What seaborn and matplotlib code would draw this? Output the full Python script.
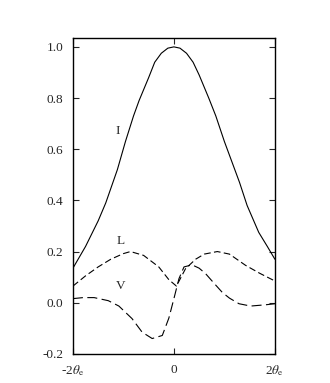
import matplotlib
matplotlib.use('Agg')
import matplotlib.pyplot as plt
import pandas as pd
import seaborn as sns

# Stokes profiles across the line, x in units of theta_e
x_I = [-2, -1.75, -1.5, -1.35, -1.12, -0.96, -0.8, -0.69, -0.5, -0.38, -0.25, -0.12, 0,
       0.12, 0.25, 0.38, 0.5, 0.69, 0.83, 1.0, 1.15, 1.3, 1.45, 1.68, 1.85, 2]
I_vals = [0.135, 0.22, 0.32, 0.39, 0.52, 0.63, 0.73, 0.79, 0.88, 0.94, 0.975, 0.995, 1.0,
          0.995, 0.975, 0.94, 0.89, 0.80, 0.73, 0.63, 0.55, 0.47, 0.38, 0.275, 0.22, 0.17]

x_L = [-2, -1.75, -1.5, -1.25, -1.0, -0.86, -0.6, -0.3, -0.1, 0.05, 0.23, 0.43,
       0.6, 0.86, 1.1, 1.42, 1.7, 2]
L_vals = [0.065, 0.105, 0.14, 0.17, 0.192, 0.20, 0.185, 0.14, 0.09, 0.065, 0.133, 0.17,
          0.19, 0.20, 0.19, 0.146, 0.115, 0.085]

x_V = [-2, -1.8, -1.58, -1.3, -1.09, -0.83, -0.63, -0.43, -0.23, -0.1, 0, 0.1, 0.2,
       0.36, 0.5, 0.63, 0.8, 0.96, 1.1, 1.29, 1.52, 1.82, 2]
V_vals = [0.016, 0.02, 0.02, 0.008, -0.013, -0.062, -0.115, -0.14, -0.128, -0.06, 0.016,
          0.094, 0.14, 0.148, 0.135, 0.113, 0.075, 0.04, 0.018, -0.004, -0.013, -0.008, -0.004]

x_ticks = [-2, 0, 2]
x_ticklabels = [r'-2$\theta_{\rm e}$', '0', r'2$\theta_{\rm e}$']
y_ticks = [-0.2, 0.0, 0.2, 0.4, 0.6, 0.8, 1.0]

sns.set_style('ticks')
plt.rcParams['font.family'] = ['Liberation Serif', 'DejaVu Serif']
plt.rcParams['mathtext.fontset'] = 'stix'

fig = plt.figure(figsize=(3.3, 3.83), dpi=100)
ax = fig.add_axes([0.221, 0.076, 0.612, 0.825])

df_I = pd.DataFrame({'x': x_I, 'y': I_vals})
df_L = pd.DataFrame({'x': x_L, 'y': L_vals})
df_V = pd.DataFrame({'x': x_V, 'y': V_vals})

sns.lineplot(data=df_I, x='x', y='y', ax=ax, color='black', lw=0.8, sort=False)
sns.lineplot(data=df_L, x='x', y='y', ax=ax, color='black', lw=0.8, sort=False)
ax.lines[-1].set_dashes([6, 3])
sns.lineplot(data=df_V, x='x', y='y', ax=ax, color='black', lw=0.8, sort=False)
ax.lines[-1].set_dashes([9, 4])

ax.text(-1.12, 0.67, 'I', fontsize=9.5, ha='center', va='center')
ax.text(-1.06, 0.243, 'L', fontsize=9.5, ha='center', va='center')
ax.text(-1.06, 0.065, 'V', fontsize=9.5, ha='center', va='center')

ax.set_xlim(-2, 2)
ax.set_ylim(-0.2, 1.035)
ax.set_xticks(x_ticks)
ax.set_xticklabels(x_ticklabels)
ax.set_yticks(y_ticks)
ax.set_yticklabels(['%.1f' % v for v in y_ticks])
ax.set_xlabel('')
ax.set_ylabel('')
ax.tick_params(direction='in', length=4, width=0.8, labelsize=9.5,
               top=True, right=True, pad=7)
for s in ax.spines.values():
    s.set_linewidth(1.0)
    s.set_color('black')

fig.savefig('out.png', dpi=100)
